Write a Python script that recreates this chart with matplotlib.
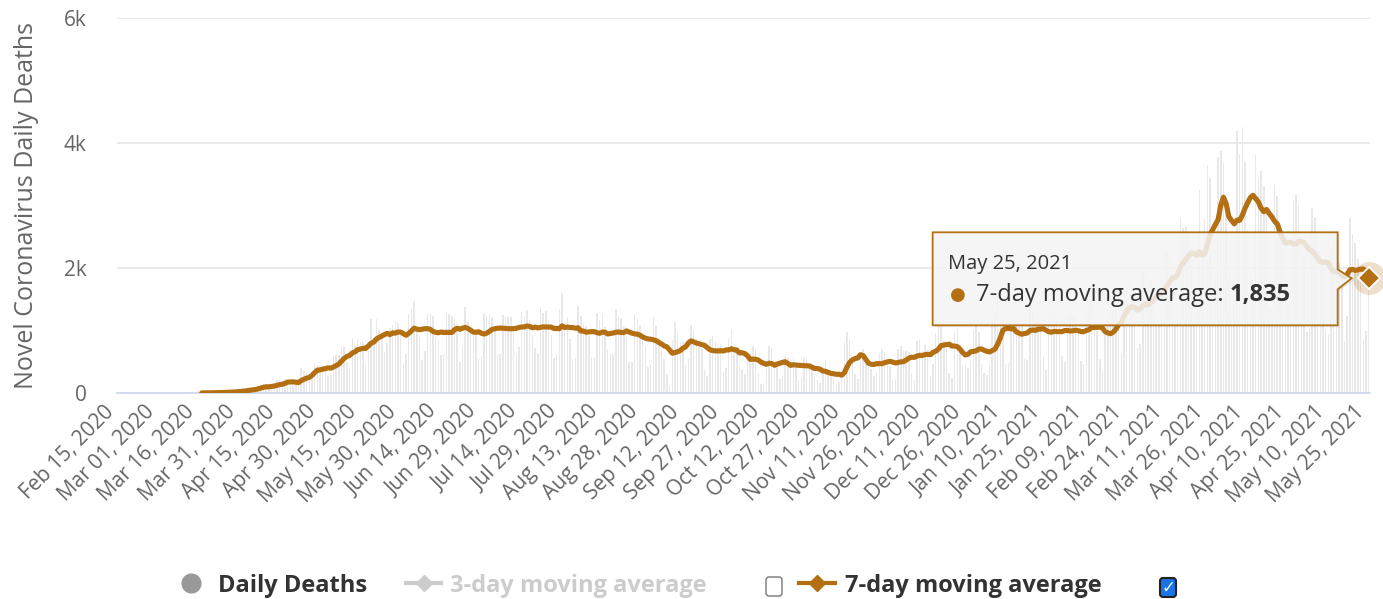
import matplotlib
matplotlib.use('Agg')
import matplotlib.pyplot as plt
import matplotlib.dates as mdates
from matplotlib.patches import Polygon, FancyBboxPatch
import pandas as pd

plt.rcParams['font.family'] = ['Open Sans', 'DejaVu Sans']

# daily deaths, one row per week (Tue..Mon), starting Tue Mar 17, 2020
first_day = '2020-03-17'
daily_deaths = [
    1, 3, 3, 4, 7, 7, 9,
    12, 11, 20, 15, 22, 22, 23,
    42, 40, 58, 60, 73, 54, 67,
    114, 133, 141, 115, 68, 99, 105,
    204, 204, 188, 217, 206, 115, 113,
    166, 165, 407, 357, 346, 189, 338,
    474, 449, 435, 428, 421, 275, 296,
    600, 615, 610, 751, 730, 496, 396,
    881, 749, 844, 824, 816, 485, 674,
    1179, 888, 1188, 1001, 965, 653, 807,
    1039, 1086, 1156, 1124, 956, 480, 623,
    1262, 1349, 1473, 1005, 904, 525, 679,
    1272, 1274, 1239, 909, 843, 612, 627,
    1282, 1269, 1238, 1206, 1022, 494, 748,
    1374, 1141, 1055, 990, 1000, 552, 588,
    1280, 1238, 1252, 1214, 1071, 602, 620,
    1254, 1223, 1220, 1214, 1071, 631, 733,
    1300, 1233, 1322, 1163, 921, 716, 632,
    1367, 1284, 1311, 1156, 921, 555, 627,
    1350, 1595, 1129, 1212, 868, 541, 561,
    1394, 1237, 1126, 1079, 905, 572, 560,
    1274, 1175, 1262, 1060, 709, 620, 620,
    1352, 1212, 1204, 1054, 892, 494, 494,
    1271, 1185, 1084, 855, 758, 410, 457,
    1215, 1075, 888, 682, 550, 310, 110,
    850, 1136, 983, 821, 814, 455, 541,
    1090, 1013, 857, 741, 721, 377, 276,
    869, 906, 831, 729, 754, 335, 406,
    863, 1031, 733, 692, 425, 363, 303,
    620, 630, 754, 690, 327, 138, 166,
    509, 754, 713, 497, 461, 230, 271,
    571, 566, 496, 566, 432, 201, 248,
    555, 560, 468, 427, 278, 210, 162,
    361, 527, 337, 327, 230, 147, 171,
    258, 800, 980, 850, 500, 300, 232,
    630, 700, 550, 420, 381, 279, 330,
    630, 698, 661, 504, 437, 202, 228,
    697, 755, 694, 672, 654, 313, 205,
    836, 848, 672, 770, 686, 279, 459,
    964, 1092, 1054, 836, 736, 327, 241,
    970, 1040, 770, 450, 466, 400, 524,
    1011, 1094, 974, 462, 314, 293, 452,
    1171, 1242, 1524, 1186, 1167, 469, 480,
    1110, 1274, 1151, 1051, 1050, 551, 533,
    1382, 1340, 1096, 1202, 1054, 592, 369,
    1214, 1283, 1186, 1179, 1050, 595, 493,
    1209, 1232, 1210, 1239, 1000, 505, 465,
    1350, 1330, 1452, 1239, 1000, 550, 359,
    946, 1185, 1367, 1406, 1337, 1051, 618,
    1641, 1700, 1786, 1541, 1275, 721, 778,
    1972, 1910, 1699, 1800, 1555, 1086, 1108,
    1954, 2286, 2233, 2216, 1997, 1127, 1522,
    2798, 2648, 2659, 2600, 2300, 1122, 1273,
    3251, 2244, 2777, 3650, 3438, 1656, 1862,
    3780, 3869, 3673, 2922, 1987, 1240, 1480,
    4195, 3829, 4249, 3693, 2616, 1824, 1738,
    3808, 3459, 3560, 3305, 2865, 1383, 1347,
    3321, 3157, 2700, 2600, 2300, 1405, 1427,
    3086, 3163, 3001, 2595, 2175, 983, 1024,
    2966, 2811, 2550, 2202, 2091, 1024, 936,
    2311, 2494, 2507, 2087, 1824, 839, 1236,
    2800, 2550, 2400, 2141, 1900, 860, 1000,
    1994,
]

axis_start = '2020-02-15'
axis_end = '2021-05-25'
y_ticks = [0, 2000, 4000, 6000]
y_tick_labels = ['0', '2k', '4k', '6k']
legend_labels = ['Daily Deaths', '3-day moving average', '7-day moving average']

BROWN = '#b36f12'
TEXT = '#333333'
GREY_TEXT = '#666666'

dates = pd.date_range(first_day, periods=len(daily_deaths), freq='D')
deaths = pd.Series(daily_deaths, index=dates)
avg7 = deaths.rolling(7, min_periods=1).mean()
tick_dates = pd.date_range(axis_start, axis_end, freq='15D')

W, H = 1383, 599
fig = plt.figure(figsize=(W / 100, H / 100), dpi=100)
ax = fig.add_axes([117 / W, 1 - 393 / H, 1253 / W, 375 / H])

ax.bar(dates, deaths.values, width=0.55, color='#e8e8e8', zorder=1)
ax.plot(dates, avg7.values, color=BROWN, lw=3.7, solid_joinstyle='round',
        solid_capstyle='round', zorder=3)

ax.set_ylim(0, 6000)
ax.set_yticks(y_ticks)
ax.set_yticklabels(y_tick_labels)
half = pd.Timedelta(hours=12)
ax.set_xlim(pd.Timestamp(axis_start) - half, pd.Timestamp(axis_end) + half)
ax.set_xticks(tick_dates)
ax.set_xticklabels([d.strftime('%b %d, %Y') for d in tick_dates],
                   rotation=45, ha='right', va='top')
ax.tick_params(axis='both', length=0, labelcolor=GREY_TEXT)
ax.tick_params(axis='x', labelsize=15, pad=6)
ax.tick_params(axis='y', labelsize=15, pad=22)
ax.grid(axis='y', color='#e6e6e6', lw=1.2)
ax.set_axisbelow(True)
for s in ['top', 'right', 'left']:
    ax.spines[s].set_visible(False)
ax.spines['bottom'].set_color('#ccd6eb')
ax.spines['bottom'].set_linewidth(1.2)
ax.set_ylabel('Novel Coronavirus Daily Deaths', fontsize=18, color=GREY_TEXT)
ax.yaxis.set_label_coords(-0.062, 0.5)

# hovered point
last_x, last_y = dates[-1], avg7.iloc[-1]
ax.scatter([last_x], [last_y], s=560, color=BROWN, alpha=0.22, lw=0,
           clip_on=False, zorder=4)
ax.plot([last_x], [last_y], marker='D', ms=11, mfc=BROWN, mec='white',
        mew=1.3, clip_on=False, zorder=5)

# overlay in pixel coordinates for tooltip and legend
ov = fig.add_axes([0, 0, 1, 1], zorder=10)
ov.set_xlim(0, W)
ov.set_ylim(H, 0)
ov.axis('off')

disp = ax.transData.transform((mdates.date2num(last_x), last_y))
px, py = ov.transData.inverted().transform(disp)

L, R, T, B = px - 436, px - 31, py - 46, py + 47
shape = [(L, T), (R, T), (R, py - 9), (px - 17, py), (R, py + 11), (R, B), (L, B)]
ov.add_patch(Polygon([(x + 2, y + 2) for x, y in shape], closed=True,
                     fc='black', alpha=0.07, lw=0))
ov.add_patch(Polygon(shape, closed=True, fc=(0.97, 0.97, 0.97, 0.86),
                     ec=BROWN, lw=1.3))
ov.text(L + 15, py - 14, last_x.strftime('%b %d, %Y'), fontsize=14.5,
        color=TEXT, va='center')
ov.text(L + 25, py + 17, '\u25cf', fontsize=13, color=BROWN, ha='center', va='center')
body = ov.text(L + 43, py + 17, '7-day moving average: ', fontsize=17,
               color=TEXT, va='center')
renderer = fig.canvas.get_renderer()
bx = ov.transData.inverted().transform(body.get_window_extent(renderer).get_points())
ov.text(bx[1][0], py + 17, f'{last_y:,.0f}', fontsize=17, fontweight='bold',
        color=TEXT, va='center')

# legend
ly = 586
ov.scatter([191], [ly - 3], s=210, color='#999999', lw=0)
ov.text(218, ly, legend_labels[0], fontsize=17, fontweight='bold', color=TEXT, va='center')
ov.plot([406, 441], [ly - 3, ly - 3], color='#cccccc', lw=3)
ov.plot([424], [ly - 3], marker='D', ms=8.5, color='#cccccc')
ov.text(450, ly, legend_labels[1], fontsize=17, fontweight='bold', color='#cccccc', va='center')
ov.add_patch(FancyBboxPatch((766, 577), 16, 19, boxstyle='round,pad=0,rounding_size=3',
                            fc='white', ec='#767676', lw=1))
ov.plot([799, 835], [ly - 3, ly - 3], color=BROWN, lw=3)
ov.plot([817], [ly - 3], marker='D', ms=8.5, color=BROWN)
ov.text(845, ly, legend_labels[2], fontsize=17, fontweight='bold', color=TEXT, va='center')
ov.add_patch(FancyBboxPatch((1160, 578), 16, 19, boxstyle='round,pad=0,rounding_size=3',
                            fc='#1a73e8', ec='#222222', lw=1.5))
ov.text(1168, 588, '\u2713', fontsize=12, fontweight='bold', color='white',
        ha='center', va='center', family=['DejaVu Sans'])

fig.savefig('out.png', dpi=100)
